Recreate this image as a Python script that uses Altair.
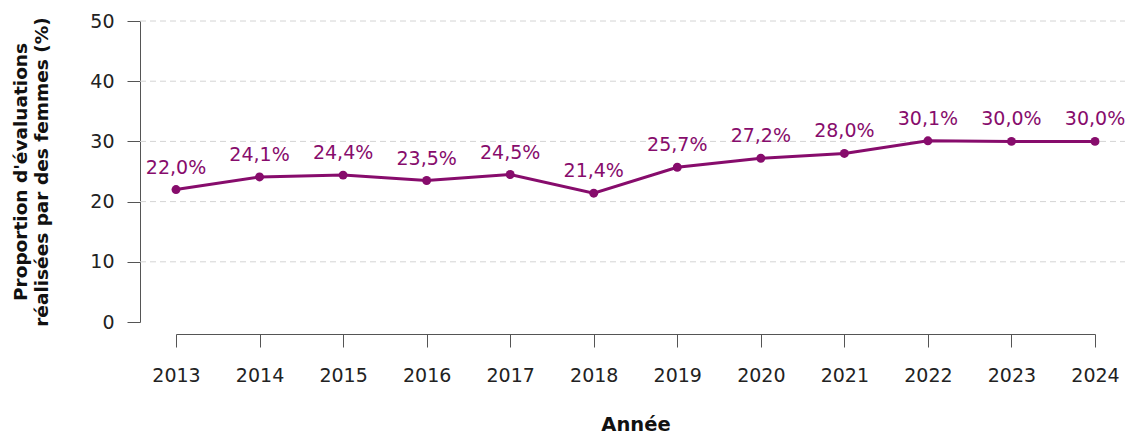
import altair as alt
import pandas as pd

years = [2013, 2014, 2015, 2016, 2017, 2018, 2019, 2020, 2021, 2022, 2023, 2024]
values = [22.0, 24.1, 24.4, 23.5, 24.5, 21.4, 25.7, 27.2, 28.0, 30.1, 30.0, 30.0]
y_ticks = [0, 10, 20, 30, 40, 50]
grid_values = [10, 20, 30, 40, 50]

df = pd.DataFrame({"year": years, "value": values})
df["label"] = [f"{v:.1f}".replace(".", ",") + "%" for v in values]
gdf = pd.DataFrame({"g": grid_values})

PURPLE = "#870c6c"
FONT = "DejaVu Sans"

yscale = alt.Scale(domain=[0, 50], nice=False, zero=True)
xscale = alt.Scale(domain=[2013, 2024], nice=False, zero=False)

yaxis = alt.Axis(
    values=y_ticks, offset=36, tickSize=13, labelPadding=13,
    title=["Proportion d'évaluations", "réalisées par des femmes (%)"],
    titleFontWeight="bold", titleFontSize=18.5, titlePadding=38, titleLineHeight=21,
    grid=False, domainColor="#555555", tickColor="#555555",
    labelFont=FONT, labelFontSize=19, labelColor="#222222", titleFont=FONT, titleColor="#111111",
)
xaxis = alt.Axis(
    values=years, format="d", offset=12, tickSize=13, labelPadding=19, labelFlush=False,
    title="Année", titleFontWeight="bold", titleFontSize=19.5, titlePadding=30,
    grid=False, domainColor="#555555", tickColor="#555555",
    labelFont=FONT, labelFontSize=19, labelColor="#222222", titleFont=FONT, titleColor="#111111",
)

grid = alt.Chart(gdf).mark_rule(strokeDash=[6, 4], color="#d4d4d4", strokeWidth=1).encode(
    y=alt.Y("g:Q", scale=yscale, axis=yaxis),
    x=alt.value(-36),
    x2=alt.value(990),
)

base = alt.Chart(df).encode(
    x=alt.X("year:Q", scale=xscale, axis=xaxis),
    y=alt.Y("value:Q", scale=yscale, axis=yaxis),
)

line = base.mark_line(color=PURPLE, strokeWidth=3)
points = base.mark_point(filled=True, color=PURPLE, size=80, opacity=1)
labels = base.mark_text(dy=-22, fontSize=19, font=FONT, color=PURPLE).encode(text="label:N")

chart = (
    alt.layer(grid, line, points, labels)
    .properties(
        width=919,
        height=301,
        autosize=alt.AutoSizeParams(type="none"),
        padding={"left": 168, "top": 13, "right": 30, "bottom": 114},
    )
    .configure_view(stroke=None)
)

chart.save("out.html", embed_options={"renderer": "svg", "actions": False})
